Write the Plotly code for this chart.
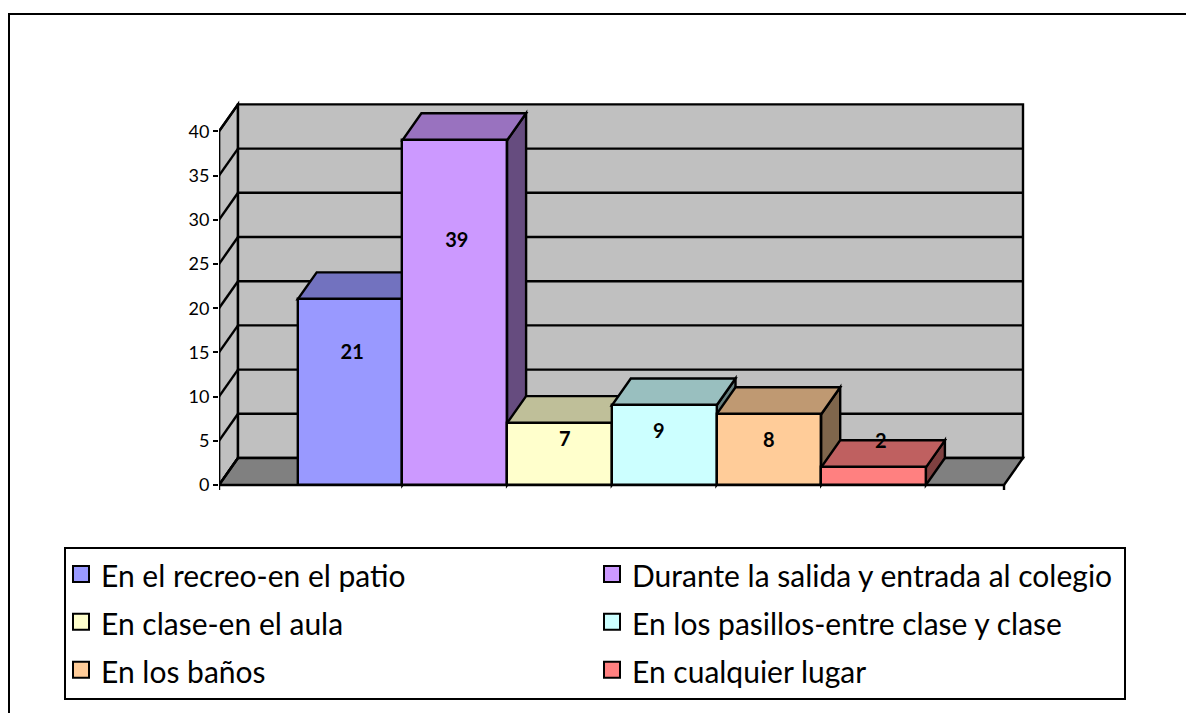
import plotly.graph_objects as go

# series of the chart
names = ["En el recreo-en el patio", "Durante la salida y entrada al colegio",
         "En clase-en el aula", "En los pasillos-entre clase y clase",
         "En los baños", "En cualquier lugar"]
values = [21, 39, 7, 9, 8, 2]
colors = ["#9999FF", "#CC99FF", "#FFFFCC", "#CCFFFF", "#FFCC99", "#FF8080"]
y_ticks = [0, 5, 10, 15, 20, 25, 30, 35, 40]

# where the data labels sit, the old chart does not centre them
label_dx = [0.02, 0.02, 0.05, -0.05, 0, 0.07]
label_y = [14.8, 27.5, 5.0, 5.9, 4.9, 4.8]

W, H = 1186, 713
# pixel calibration of the fake 3d box
PX_PER_UNIT = 8.84
PX_PER_CAT = 104.7
Y0_PX = 485
BAR0_PX = 297.7
LEFT_PX, RIGHT_PX, TOP_PX, BOTTOM_PX = 219, 1040, 90, 500
DX = 19 / PX_PER_CAT   # depth in x units
DY = 27 / PX_PER_UNIT  # depth in y units
X_FRONT_L = -0.5 - (BAR0_PX - LEFT_PX) / PX_PER_CAT
X_FRONT_R = -0.5 + (1004 - BAR0_PX) / PX_PER_CAT
Y_MAX = 40
LW = 2.4


def shade(hex_color, k):
    r, g, b = [int(hex_color[i:i + 2], 16) for i in (1, 3, 5)]
    return "rgb(%d,%d,%d)" % (r * k, g * k, b * k)


def poly(pts, fill):
    path = "M" + "L".join("%f,%f" % p for p in pts) + "Z"
    return dict(type="path", path=path, xref="x", yref="y", layer="below",
                fillcolor=fill, line=dict(color="black", width=LW))


def hline(x0, x1, y):
    return dict(type="line", x0=x0, x1=x1, y0=y, y1=y, xref="x", yref="y", layer="below",
                line=dict(color="black", width=LW))


shapes = []
# walls and floor
shapes.append(poly([(X_FRONT_L, 0), (X_FRONT_L + DX, DY), (X_FRONT_L + DX, Y_MAX + DY), (X_FRONT_L, Y_MAX)], "#C0C0C0"))
shapes.append(poly([(X_FRONT_L + DX, DY), (X_FRONT_R + DX, DY), (X_FRONT_R + DX, Y_MAX + DY), (X_FRONT_L + DX, Y_MAX + DY)], "#C0C0C0"))
shapes.append(poly([(X_FRONT_L, 0), (X_FRONT_R, 0), (X_FRONT_R + DX, DY), (X_FRONT_L + DX, DY)], "#808080"))
for t in y_ticks[1:-1]:
    shapes.append(hline(X_FRONT_L + DX, X_FRONT_R + DX, t + DY))

# side and top of each bar, painted left to right
for i, (v, c) in enumerate(zip(values, colors)):
    x0, x1 = i - 0.5, i + 0.5
    shapes.append(poly([(x1, 0), (x1 + DX, DY), (x1 + DX, v + DY), (x1, v)], shade(c, 0.5)))
    shapes.append(poly([(x0, v), (x1, v), (x1 + DX, v + DY), (x0 + DX, v + DY)], shade(c, 0.75)))

# page frame, open on the right and at the bottom
shapes.append(dict(type="path", xref="paper", yref="paper", line=dict(color="black", width=2),
                   path="M%f,0L%f,%fL1,%f" % (9 / W, 9 / W, 1 - 14 / H, 1 - 14 / H)))
# legend box, drawn by hand since the swatches need to sit closer to the edge
shapes.append(dict(type="rect", xref="paper", yref="paper", layer="below", line=dict(color="black", width=2),
                   fillcolor="white", x0=65 / W, x1=1125 / W, y0=1 - 699 / H, y1=1 - 548 / H))

fig = go.Figure()

fig.add_trace(go.Bar(x=list(range(len(values))), y=values, width=1, marker=dict(color=colors, line=dict(color="black", width=LW)),
                     showlegend=False, hoverinfo="skip"))

# edges of the left wall plus the two end ticks, these must not be clipped
fx, fy = [X_FRONT_L, X_FRONT_L, None], [-5 / PX_PER_UNIT, Y_MAX, None]
for t in y_ticks:
    fx += [X_FRONT_L, X_FRONT_L + DX, None]
    fy += [t, t + DY, None]
fx += [X_FRONT_R, X_FRONT_R, None]
fy += [0, -5 / PX_PER_UNIT, None]
fig.add_trace(go.Scatter(x=fx, y=fy, mode="lines", line=dict(color="black", width=LW), cliponaxis=False,
                         showlegend=False, hoverinfo="skip"))

fig.add_trace(go.Scatter(x=[i + d for i, d in enumerate(label_dx)], y=label_y, mode="text",
                         text=["<b>%d</b>" % v for v in values], textposition="middle center",
                         textfont=dict(family="Lato", size=20, color="black"), showlegend=False, hoverinfo="skip"))

# legend entries
for n, c in zip(names, colors):
    fig.add_trace(go.Scatter(x=[None], y=[None], mode="markers", name='<span style="font-size:30px">%s</span>' % n,
                             marker=dict(symbol="square", size=16, color=c, line=dict(color="black", width=2))))

fig.update_layout(
    width=W, height=H, margin=dict(l=0, r=0, t=0, b=0),
    paper_bgcolor="white", plot_bgcolor="rgba(0,0,0,0)", font=dict(family="Lato", color="black"),
    shapes=shapes, bargap=0,
    xaxis=dict(domain=[LEFT_PX / W, RIGHT_PX / W], visible=False,
               range=[X_FRONT_L, -0.5 + (RIGHT_PX - BAR0_PX) / PX_PER_CAT]),
    yaxis=dict(domain=[1 - BOTTOM_PX / H, 1 - TOP_PX / H], range=[(Y0_PX - BOTTOM_PX) / PX_PER_UNIT, (Y0_PX - TOP_PX) / PX_PER_UNIT],
               tickmode="array", tickvals=y_ticks, ticks="outside", ticklen=5, tickwidth=2, tickcolor="black",
               showgrid=False, zeroline=False, showline=False, tickfont=dict(family="Lato", size=18, color="black")),
    legend=dict(orientation="h", x=61 / W, y=1 - 545 / H, xanchor="left", yanchor="top", borderwidth=0,
                bgcolor="rgba(0,0,0,0)", font=dict(family="Lato", size=34.5, color="black"), entrywidth=486, entrywidthmode="pixels",
                itemclick=False, itemdoubleclick=False),
)

# the page keeps the browser's 8px body margin otherwise
fig.write_html("out.html", config=dict(displayModeBar=False),
               post_script="document.body.style.margin='0';document.documentElement.style.overflow='hidden';")
